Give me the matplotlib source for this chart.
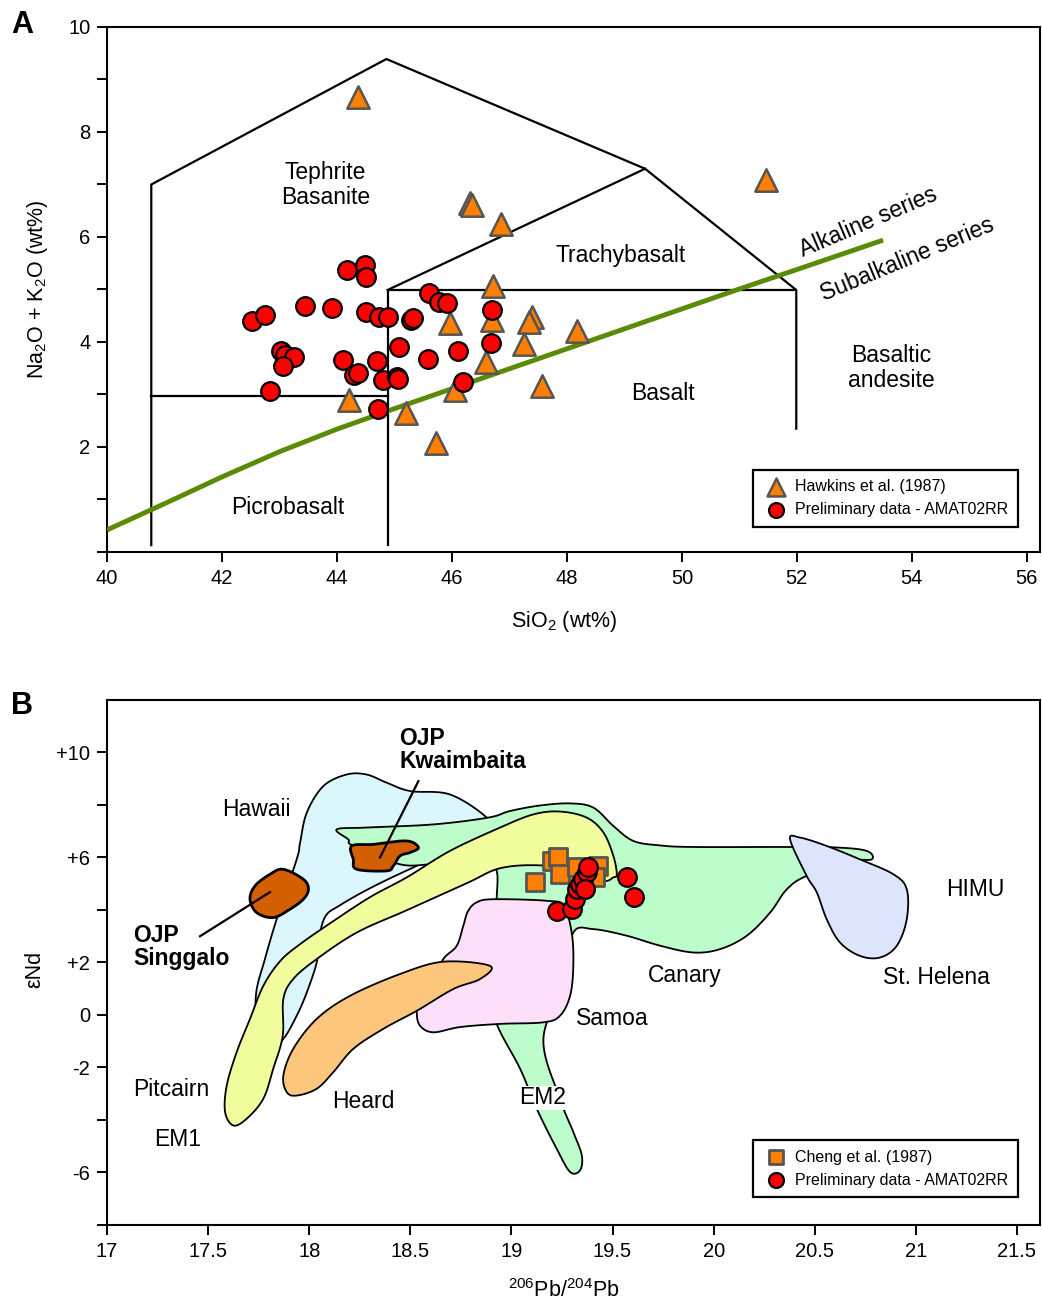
#!/usr/bin/env python
import numpy as np
import matplotlib
matplotlib.use("Agg")
from matplotlib import pyplot as plt

# ---- Panel A: TAS diagram data ----
hawkins_sio2 = [44.36, 46.31, 46.35, 46.85, 51.46, 46.72, 45.96, 46.70, 47.39,
                47.34, 47.26, 48.17, 46.59, 46.05, 47.56, 44.21, 45.20, 45.73]
hawkins_alk = [8.67, 6.65, 6.60, 6.25, 7.09, 5.07, 4.36, 4.42, 4.47,
               4.39, 3.97, 4.20, 3.62, 3.09, 3.16, 2.90, 2.64, 2.08]

amat_sio2 = [44.18, 44.48, 44.51, 42.52, 42.75, 43.44, 43.91, 44.51, 44.74,
             44.88, 45.28, 45.32, 45.60, 45.77, 45.91, 46.69, 43.03, 43.10,
             43.25, 43.07, 44.10, 44.70, 45.08, 45.58, 46.10, 46.68, 44.29,
             44.36, 44.80, 45.05, 45.06, 46.20, 42.84, 44.71]
amat_alk = [5.37, 5.47, 5.24, 4.40, 4.51, 4.69, 4.64, 4.58, 4.48,
            4.48, 4.41, 4.45, 4.94, 4.77, 4.74, 4.61, 3.83, 3.75,
            3.72, 3.54, 3.66, 3.64, 3.91, 3.68, 3.83, 3.99, 3.37,
            3.40, 3.28, 3.34, 3.30, 3.24, 3.07, 2.72]

# field boundaries (SiO2, Na2O+K2O)
tas_outer_x = [40.77, 40.77, 44.86, 49.36, 51.99, 51.99]
tas_outer_y = [0.13, 7.0, 9.39, 7.3, 4.99, 2.35]
tas_basalt_x = [44.88, 44.88, 51.99]
tas_basalt_y = [0.13, 4.99, 4.99]
tas_trachy_x = [44.88, 49.36]
tas_trachy_y = [4.99, 7.3]
tas_picro_x = [40.77, 44.88]
tas_picro_y = [2.97, 2.97]

# alkaline / subalkaline divide
divide_x = [40, 41, 42, 43, 44, 45, 46, 47, 48, 49, 50, 51, 52, 53.5]
divide_y = [0.42, 0.92, 1.43, 1.91, 2.34, 2.73, 3.11, 3.49, 3.87, 4.25,
            4.63, 5.01, 5.38, 5.94]

# ---- Panel B: Pb-Nd data ----
cheng_pb = [19.117, 19.199, 19.232, 19.240, 19.323, 19.430, 19.413]
cheng_end = [5.05, 5.87, 6.00, 5.36, 5.62, 5.68, 5.24]

amat_pb = [19.224, 19.298, 19.315, 19.323, 19.339, 19.356, 19.372, 19.380,
           19.364, 19.570, 19.606]
amat_end = [3.97, 4.03, 4.41, 4.79, 4.98, 5.17, 5.43, 5.62,
            4.79, 5.24, 4.48]

# reservoir fields (206Pb/204Pb, eNd)
hawaii_x = [18.185, 18.284, 18.383, 18.499, 18.696, 18.878, 18.944, 18.746,
            18.597, 18.484, 18.301, 18.152, 18.078, 18.043, 18.037, 17.988,
            17.938, 17.872, 17.806, 17.747, 17.737, 17.781, 17.839, 17.938,
            17.955, 17.988, 18.070]
hawaii_y = [9.16, 9.16, 8.85, 8.53, 8.40, 7.52, 6.69, 5.95,
            5.86, 5.51, 4.83, 4.18, 3.73, 2.70, 2.00, 0.86,
            -0.03, -0.91, -1.22, -0.53, 0.80, 2.13, 3.65, 5.93,
            6.57, 7.71, 8.72]

canary_x = [18.136, 18.284, 18.614, 18.886, 18.993, 19.141, 19.290, 19.405,
            19.504, 19.603, 19.735, 19.900, 20.362, 20.609, 20.757, 20.782,
            20.675, 20.460, 20.362, 20.279, 20.164, 20.032, 19.900, 19.735,
            19.570, 19.405, 19.306, 19.265, 19.158, 19.240, 19.306, 19.348,
            19.339, 19.290, 19.224, 19.125, 19.043, 18.927, 18.894, 18.919,
            18.927, 18.919, 18.795, 18.614, 18.449, 18.218, 18.193]
canary_y = [7.07, 7.14, 7.26, 7.52, 7.77, 7.98, 8.06, 7.90,
            7.20, 6.63, 6.46, 6.40, 6.40, 6.38, 6.25, 5.93,
            5.86, 5.30, 4.79, 3.90, 3.02, 2.51, 2.38, 2.64,
            3.02, 3.27, 3.14, 1.37, -0.91, -3.19, -4.46, -5.35,
            -5.92, -5.98, -5.10, -3.57, -2.05, -0.34, 0.99, 3.27,
            4.41, 5.62, 5.70, 5.74, 5.74, 6.44, 6.69]

pitcairn_x = [19.521, 19.504, 19.455, 19.372, 19.240, 19.108, 18.944, 18.696,
              18.484, 18.301, 18.118, 17.955, 17.856, 17.773, 17.707, 17.641,
              17.592, 17.584, 17.625, 17.691, 17.773, 17.822, 17.869, 17.872,
              17.921, 18.037, 18.235, 18.482, 18.779, 18.944, 19.141, 19.339,
              19.455, 19.504]
pitcairn_y = [5.36, 6.06, 6.95, 7.52, 7.75, 7.64, 7.14, 6.25,
              5.25, 4.49, 3.57, 2.70, 2.05, 1.11, -0.15, -1.42,
              -2.69, -3.70, -4.21, -3.95, -3.19, -2.05, -0.79, 0.61,
              1.37, 2.13, 3.14, 3.99, 5.02, 5.59, 5.70, 5.48,
              5.11, 5.24]

samoa_x = [18.828, 18.911, 19.175, 19.257, 19.298, 19.306, 19.290, 19.240,
           19.158, 18.944, 18.746, 18.614, 18.548, 18.532, 18.548, 18.597,
           18.663, 18.729, 18.762, 18.785]
samoa_y = [4.29, 4.41, 4.35, 4.16, 3.14, 1.87, 0.73, -0.03,
           -0.28, -0.34, -0.46, -0.66, -0.41, 0.10, 0.61, 1.18,
           2.13, 2.63, 3.40, 3.95]

heard_x = [18.894, 18.663, 18.449, 18.202, 18.037, 17.921, 17.872, 17.889,
           17.938, 18.037, 18.119, 18.218, 18.366, 18.532, 18.713, 18.845]
heard_y = [1.87, 2.03, 1.56, 0.73, -0.15, -1.29, -2.31, -2.94,
           -3.07, -2.81, -2.18, -1.29, -0.53, 0.16, 0.99, 1.37]

sthelena_x = [20.378, 20.427, 20.559, 20.723, 20.889, 20.955, 20.955, 20.906,
              20.823, 20.724, 20.625, 20.559, 20.510, 20.460]
sthelena_y = [6.69, 6.76, 6.44, 5.93, 5.36, 4.79, 3.65, 2.64,
              2.19, 2.25, 2.76, 3.65, 4.67, 5.30]

singgalo_x = [17.872, 17.971, 17.996, 17.971, 17.905, 17.822, 17.740, 17.707,
              17.732, 17.806]
singgalo_y = [5.55, 5.17, 4.79, 4.41, 4.03, 3.71, 3.90, 4.41,
              4.92, 5.36]

kwaimbaita_x = [18.210, 18.317, 18.482, 18.540, 18.499, 18.449, 18.416, 18.383,
                18.235, 18.218]
kwaimbaita_y = [6.44, 6.50, 6.63, 6.38, 6.19, 6.06, 5.68, 5.49,
                5.55, 5.93]

b_xticks = [17, 17.5, 18, 18.5, 19, 19.5, 20, 20.5, 21, 21.5]
b_xticklabels = ["17", "17.5", "18", "18.5", "19", "19.5", "20", "20.5", "21", "21.5"]
b_yticks = [-8, -6, -4, -2, 0, 2, 4, 6, 8, 10]
b_yticklabels = ["", "-6", "", "-2", "0", "+2", "", "+6", "", "+10"]


def smooth_closed(xs, ys, n=12):
    # closed Catmull-Rom spline through the outline points
    p = np.column_stack([xs, ys])
    m = len(p)
    t = np.linspace(0, 1, n, endpoint=False)[:, None]
    segs = []
    for i in range(m):
        p0, p1, p2, p3 = p[i - 1], p[i], p[(i + 1) % m], p[(i + 2) % m]
        segs.append(0.5 * (2 * p1 + (-p0 + p2) * t
                           + (2 * p0 - 5 * p1 + 4 * p2 - p3) * t ** 2
                           + (-p0 + 3 * p1 - 3 * p2 + p3) * t ** 3))
    out = np.vstack(segs)
    return out[:, 0], out[:, 1]


def field(ax, xs, ys, color, lw=1.3, z=1):
    sx, sy = smooth_closed(xs, ys)
    ax.fill(sx, sy, facecolor=color, edgecolor="black", linewidth=lw, zorder=z)


def main():
    plt.rcParams["font.family"] = ["Liberation Sans", "DejaVu Sans"]
    plt.rcParams["mathtext.fontset"] = "custom"
    plt.rcParams["mathtext.rm"] = "Liberation Sans"
    plt.rcParams["mathtext.it"] = "Liberation Sans:italic"
    plt.rcParams["axes.linewidth"] = 1.5

    fig = plt.figure(figsize=(10.42, 13.04), dpi=100, facecolor="w")
    axA = fig.add_axes([0.1027, 0.5767, 0.8954, 0.4026])
    axB = fig.add_axes([0.1027, 0.0606, 0.8954, 0.4026])

    tick_kw = dict(direction="out", length=7, width=1.4, labelsize=14.5, pad=5)
    lbl = 16.5

    # ---------------- Panel A ----------------
    for xs, ys in [(tas_outer_x, tas_outer_y), (tas_basalt_x, tas_basalt_y),
                   (tas_trachy_x, tas_trachy_y), (tas_picro_x, tas_picro_y)]:
        axA.plot(xs, ys, "k-", linewidth=1.6, zorder=2)
    axA.plot(divide_x, divide_y, "-", color="#5a8a06", linewidth=3.5,
             solid_capstyle="butt", solid_joinstyle="round", zorder=3)

    axA.scatter(hawkins_sio2, hawkins_alk, marker="^", s=260, c="#ff7f00",
                edgecolors="#555555", linewidths=1.8, zorder=4,
                label="Hawkins et al. (1987)")
    axA.scatter(amat_sio2, amat_alk, marker="o", s=180, c="#ff0000",
                edgecolors="black", linewidths=1.6, zorder=5,
                label="Preliminary data - AMAT02RR")

    axA.text(43.80, 6.99, "Tephrite\nBasanite", ha="center", va="center",
             fontsize=lbl, linespacing=1.1)
    axA.text(48.94, 5.64, "Trachybasalt", ha="center", va="center", fontsize=lbl)
    axA.text(49.67, 3.01, "Basalt", ha="center", va="center", fontsize=lbl)
    axA.text(53.64, 3.50, "Basaltic\nandesite", ha="center", va="center",
             fontsize=lbl, linespacing=1.1)
    axA.text(43.14, 0.84, "Picrobasalt", ha="center", va="center", fontsize=lbl)
    axA.text(53.24, 6.29, "Alkaline series", ha="center", va="center",
             fontsize=lbl, rotation=23, rotation_mode="anchor")
    axA.text(53.92, 5.58, "Subalkaline series", ha="center", va="center",
             fontsize=lbl, rotation=22.5, rotation_mode="anchor")

    axA.set_xlim(40, 56.23)
    axA.set_ylim(0, 10)
    axA.set_xticks(range(40, 57, 2))
    axA.set_yticks(range(0, 11))
    axA.set_yticklabels(["", "", "2", "", "4", "", "6", "", "8", "", "10"])
    axA.tick_params(**tick_kw)
    axA.text(0.49, -0.133, "SiO$_\\mathregular{2}$ (wt%)", transform=axA.transAxes,
             ha="center", va="center", fontsize=15.5)
    axA.text(-0.075, 0.5, "Na$_\\mathregular{2}$O + K$_\\mathregular{2}$O (wt%)",
             transform=axA.transAxes, ha="center", va="center", rotation=90,
             fontsize=15.5)
    legA = axA.legend(loc="lower right", bbox_to_anchor=(0.976, 0.048),
                      borderaxespad=0, fancybox=False, framealpha=1,
                      edgecolor="black", fontsize=11.5, handletextpad=0.4,
                      borderpad=0.6, markerscale=0.8, handlelength=1.6)
    legA.get_frame().set_linewidth(1.6)

    # ---------------- Panel B ----------------
    field(axB, hawaii_x, hawaii_y, "#dcf6fd", z=1)
    field(axB, canary_x, canary_y, "#bdfccb", z=2)
    field(axB, pitcairn_x, pitcairn_y, "#f1fd9d", z=3)
    field(axB, samoa_x, samoa_y, "#fddff9", z=4)
    field(axB, heard_x, heard_y, "#fdc67d", z=5)
    field(axB, sthelena_x, sthelena_y, "#dde5fd", z=5)
    field(axB, singgalo_x, singgalo_y, "#d35f00", lw=2.0, z=6)
    field(axB, kwaimbaita_x, kwaimbaita_y, "#d35f00", lw=2.0, z=6)

    axB.plot([18.350, 18.540], [6.00, 8.91], "k-", linewidth=1.6, zorder=7)
    axB.plot([17.806, 17.460], [4.68, 3.00], "k-", linewidth=1.6, zorder=7)

    axB.scatter(cheng_pb, cheng_end, marker="s", s=150, c="#ff7f00",
                edgecolors="#555555", linewidths=2.0, zorder=8,
                label="Cheng et al. (1987)")
    axB.scatter(amat_pb, amat_end, marker="o", s=180, c="#ff0000",
                edgecolors="black", linewidths=1.6, zorder=9,
                label="Preliminary data - AMAT02RR")

    axB.text(18.444, 10.08, "OJP\nKwaimbaita", ha="left", va="center",
             fontsize=lbl, fontweight="bold", linespacing=1.0, zorder=10)
    axB.text(17.129, 2.59, "OJP\nSinggalo", ha="left", va="center",
             fontsize=lbl, fontweight="bold", linespacing=1.0, zorder=10)
    axB.text(17.737, 7.83, "Hawaii", ha="center", va="center", fontsize=lbl)
    axB.text(21.293, 4.79, "HIMU", ha="center", va="center", fontsize=lbl)
    axB.text(19.859, 1.52, "Canary", ha="center", va="center", fontsize=lbl)
    axB.text(21.100, 1.41, "St. Helena", ha="center", va="center", fontsize=lbl)
    axB.text(19.498, -0.15, "Samoa", ha="center", va="center", fontsize=lbl)
    axB.text(17.317, -2.85, "Pitcairn", ha="center", va="center", fontsize=lbl)
    axB.text(18.266, -3.31, "Heard", ha="center", va="center", fontsize=lbl)
    axB.text(19.156, -3.16, "EM2", ha="center", va="center", fontsize=lbl,
             zorder=10, bbox=dict(facecolor="white", edgecolor="none", pad=0.5))
    axB.text(17.351, -4.75, "EM1", ha="center", va="center", fontsize=lbl)

    axB.set_xlim(17, 21.614)
    axB.set_ylim(-8, 12)
    axB.set_xticks(b_xticks)
    axB.set_xticklabels(b_xticklabels)
    axB.set_yticks(b_yticks)
    axB.set_yticklabels(b_yticklabels)
    axB.tick_params(**tick_kw)
    axB.text(0.49, -0.124, "$^\\mathregular{206}$Pb/$^\\mathregular{204}$Pb",
             transform=axB.transAxes, ha="center", va="center", fontsize=15.5)
    axB.text(-0.077, 0.486, "\u03b5Nd", transform=axB.transAxes, ha="center",
             va="center", rotation=90, fontsize=15.5)
    legB = axB.legend(loc="lower right", bbox_to_anchor=(0.976, 0.053),
                      borderaxespad=0, fancybox=False, framealpha=1,
                      edgecolor="black", fontsize=11.5, handletextpad=0.4,
                      borderpad=0.6, markerscale=0.8, handlelength=1.6)
    legB.get_frame().set_linewidth(1.6)

    fig.text(0.021, 0.981, "A", ha="center", va="center", fontsize=22,
             fontweight="bold")
    fig.text(0.021, 0.4586, "B", ha="center", va="center", fontsize=22,
             fontweight="bold")

    fig.savefig("out.png", dpi=100, facecolor="w", edgecolor="w")


if __name__ == "__main__":
    main()
